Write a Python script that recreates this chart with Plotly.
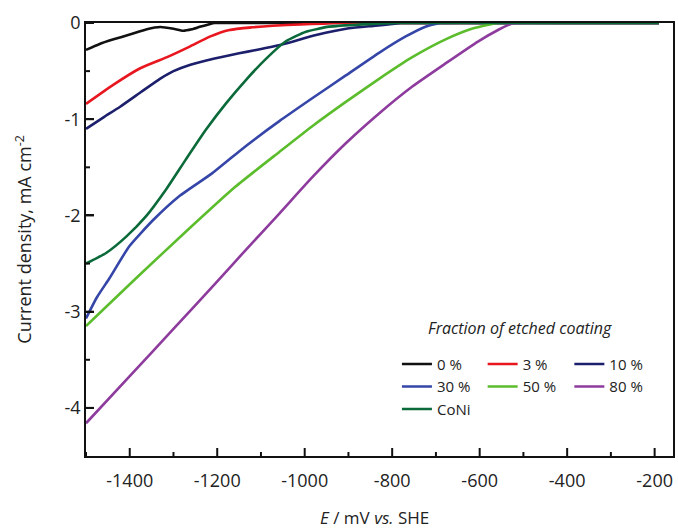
import plotly.graph_objects as go

# Potential (mV vs. SHE) and current density (mA cm^-2) for each coating
e_0 = [-1500, -1470, -1437, -1400, -1361, -1330, -1300, -1278, -1258, -1240, -1220, -1206, -1150, -1000, -600, -190]
j_0 = [-0.28, -0.22, -0.17, -0.12, -0.065, -0.042, -0.06, -0.08, -0.065, -0.04, -0.015, 0.0, 0.0, 0.0, 0.0, 0.0]

e_3 = [-1500, -1437, -1376, -1312, -1263, -1217, -1172, -1120, -1073, -1010, -959, -930, -800, -190]
j_3 = [-0.84, -0.64, -0.47, -0.35, -0.246, -0.142, -0.073, -0.045, -0.028, -0.015, -0.006, 0.0, 0.0, 0.0]

e_10 = [-1500, -1460, -1422, -1375, -1331, -1300, -1263, -1225, -1187, -1150, -1111, -1050, -974, -899, -838, -800, -780, -600, -190]
j_10 = [-1.10, -0.98, -0.87, -0.72, -0.58, -0.50, -0.436, -0.39, -0.35, -0.315, -0.28, -0.22, -0.125, -0.055, -0.028, -0.01, 0.0, 0.0, 0.0]

e_30 = [-1500, -1475, -1446, -1401, -1347, -1287, -1211, -1135, -1058, -982, -906, -830, -769, -724, -701, -690, -500, -190]
j_30 = [-3.07, -2.85, -2.65, -2.32, -2.05, -1.80, -1.56, -1.28, -1.02, -0.78, -0.545, -0.31, -0.14, -0.038, -0.01, 0.0, 0.0, 0.0]

e_50 = [-1500, -1385, -1272, -1158, -1058, -982, -906, -830, -754, -678, -618, -580, -560, -400, -190]
j_50 = [-3.15, -2.65, -2.17, -1.70, -1.34, -1.07, -0.82, -0.58, -0.355, -0.17, -0.06, -0.018, 0.0, 0.0, 0.0]

e_80 = [-1500, -1400, -1300, -1203, -1135, -1058, -982, -906, -830, -754, -678, -603, -557, -534, -522, -400, -190]
j_80 = [-4.16, -3.67, -3.18, -2.70, -2.36, -1.98, -1.60, -1.25, -0.94, -0.66, -0.42, -0.19, -0.07, -0.02, 0.0, 0.0, 0.0]

e_coni = [-1500, -1454, -1408, -1363, -1317, -1272, -1226, -1179, -1134, -1088, -1043, -997, -944, -868, -820, -790, -600, -190]
j_coni = [-2.50, -2.39, -2.22, -2.01, -1.73, -1.42, -1.11, -0.83, -0.59, -0.37, -0.19, -0.09, -0.038, -0.014, -0.004, 0.0, 0.0, 0.0]

series_names = ["0 %", "3 %", "10 %", "30 %", "50 %", "80 %", "CoNi"]
series_e = [e_0, e_3, e_10, e_30, e_50, e_80, e_coni]
series_j = [j_0, j_3, j_10, j_30, j_50, j_80, j_coni]
series_colors = ["#111111", "#e8161e", "#1c1f6b", "#3546a8", "#5cbd2c", "#8e3b9e", "#0b6a3a"]
# legend column that each series is listed in
series_legend = ["legend", "legend2", "legend3", "legend", "legend2", "legend3", "legend"]

x_ticks = [-1400, -1200, -1000, -800, -600, -400, -200]
x_minor = [-1500, -1300, -1100, -900, -700, -500, -300]
y_ticks = [0, -1, -2, -3, -4]
y_minor = [-0.5, -1.5, -2.5, -3.5]

X_RANGE = [-1500, -158]
Y_RANGE = [-4.5, 0]

WIDTH, HEIGHT = 678, 530
MARGIN = dict(l=86, r=3, t=23, b=74)
PLOT_W = WIDTH - MARGIN["l"] - MARGIN["r"]
PLOT_H = HEIGHT - MARGIN["t"] - MARGIN["b"]

FONT = "Open Sans, DejaVu Sans, sans-serif"
INK = "#222222"
AXIS = "#111111"

fig = go.Figure()
for name, e, j, c, lg in zip(series_names, series_e, series_j, series_colors, series_legend):
    fig.add_trace(go.Scatter(
        x=e, y=j, name=name, mode="lines", legend=lg,
        line=dict(color=c, width=2.6, shape="spline", smoothing=0.5),
    ))

axis_common = dict(
    showline=True, linecolor=AXIS, linewidth=1.6, mirror=True,
    showgrid=False, zeroline=False,
    tickfont=dict(family=FONT, size=18, color=INK),
)
fig.update_xaxes(
    range=X_RANGE, tickmode="array", tickvals=x_ticks, ticktext=[str(v) for v in x_ticks],
    ticks="outside", ticklen=8, tickcolor="rgba(0,0,0,0)", **axis_common,
)
fig.update_yaxes(
    range=Y_RANGE, tickmode="array", tickvals=y_ticks, ticktext=[str(v) for v in y_ticks],
    ticks="inside", ticklen=8, tickwidth=2, tickcolor=AXIS, **axis_common,
)

# inward tick marks drawn in data units (8 px major, 4 px minor)
x_per_px = (X_RANGE[1] - X_RANGE[0]) / PLOT_W
y_per_px = (Y_RANGE[1] - Y_RANGE[0]) / PLOT_H
for v in x_ticks + x_minor:
    n_px = 8 if v in x_ticks else 4
    fig.add_shape(type="line", xref="x", yref="y", x0=v, x1=v,
                  y0=Y_RANGE[0], y1=Y_RANGE[0] + n_px * y_per_px,
                  line=dict(color=AXIS, width=2), layer="above")
for v in y_ticks + y_minor:
    n_px = 8 if v in y_ticks else 4
    fig.add_shape(type="line", xref="x", yref="y", y0=v, y1=v,
                  x0=X_RANGE[0], x1=X_RANGE[0] + n_px * x_per_px,
                  line=dict(color=AXIS, width=2), layer="above")

fig.add_annotation(
    text="Current density, mA cm<sup>-2</sup>", textangle=-90,
    xref="paper", yref="paper", x=-0.107, y=0.5, xanchor="center", yanchor="middle",
    showarrow=False, font=dict(family=FONT, size=18, color=INK),
)
fig.add_annotation(
    text="<i>E</i> / mV <i>vs.</i> SHE",
    xref="paper", yref="paper", x=0.492, y=-0.143, xanchor="center", yanchor="middle",
    showarrow=False, font=dict(family=FONT, size=17, color=INK),
)
fig.add_annotation(
    text="<i>Fraction of etched coating</i>",
    xref="paper", yref="paper", x=0.9, y=0.296, xanchor="right", yanchor="middle",
    showarrow=False, font=dict(family=FONT, size=16, color=INK),
)

legend_style = dict(
    orientation="v", yanchor="top", xanchor="left", y=0.25,
    tracegroupgap=0, bgcolor="rgba(0,0,0,0)", borderwidth=0,
    font=dict(family=FONT, size=15, color=INK),
)
fig.update_layout(
    width=WIDTH, height=HEIGHT,
    margin=MARGIN,
    paper_bgcolor="white", plot_bgcolor="white",
    showlegend=True,
    legend=dict(x=(398 - 86) / PLOT_W, **legend_style),
    legend2=dict(x=(484 - 86) / PLOT_W, **legend_style),
    legend3=dict(x=(571 - 86) / PLOT_W, **legend_style),
)

fig.write_html("out.html")
